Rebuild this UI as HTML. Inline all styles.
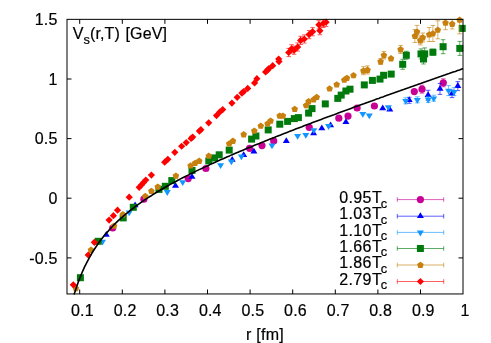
<!DOCTYPE html>
<html><head><meta charset="utf-8"><style>
html,body{margin:0;padding:0;background:#fff;}
svg{display:block;}
#wrap{will-change:transform;transform:translateZ(0);opacity:0.999;width:491px;height:343px;overflow:hidden}
text{font-family:"Liberation Sans",sans-serif;font-size:16px;fill:#000;stroke:#000;stroke-width:0.2px;}
</style></head><body><div id="wrap">
<svg width="491" height="343" viewBox="0 0 491 343">
<rect width="491" height="343" fill="#fff"/>
<text x="82.4" y="316.2" text-anchor="middle" letter-spacing="0.2">0.1</text>
<text x="125.1" y="316.2" text-anchor="middle" letter-spacing="0.2">0.2</text>
<text x="167.7" y="316.2" text-anchor="middle" letter-spacing="0.2">0.3</text>
<text x="210.3" y="316.2" text-anchor="middle" letter-spacing="0.2">0.4</text>
<text x="252.9" y="316.2" text-anchor="middle" letter-spacing="0.2">0.5</text>
<text x="295.5" y="316.2" text-anchor="middle" letter-spacing="0.2">0.6</text>
<text x="338.1" y="316.2" text-anchor="middle" letter-spacing="0.2">0.7</text>
<text x="380.7" y="316.2" text-anchor="middle" letter-spacing="0.2">0.8</text>
<text x="423.3" y="316.2" text-anchor="middle" letter-spacing="0.2">0.9</text>
<text x="465.1" y="316.2" text-anchor="middle" letter-spacing="0.2">1</text>
<text x="57.5" y="263.7" text-anchor="end" letter-spacing="0.2">-0.5</text>
<text x="57.5" y="204.1" text-anchor="end" letter-spacing="0.2">0</text>
<text x="57.5" y="144.4" text-anchor="end" letter-spacing="0.2">0.5</text>
<text x="57.5" y="84.8" text-anchor="end" letter-spacing="0.2">1</text>
<text x="57.5" y="25.1" text-anchor="end" letter-spacing="0.2">1.5</text>
<text x="265" y="340.2" text-anchor="middle" letter-spacing="0.26">r [fm]</text>
<text x="72.8" y="39.2" letter-spacing="0.1">V<tspan font-size="12.8" dy="4.8">s</tspan><tspan dy="-4.8">(r,T) </tspan><tspan dx="1.1">[GeV]</tspan></text>
<clipPath id="cp"><rect x="67.0" y="19.35" width="396.0" height="274.6"/></clipPath>
<g clip-path="url(#cp)"><path d="M422.0 85.2V93.2M419.7 85.2h4.6M419.7 93.2h4.6" stroke="#c80096" stroke-width="0.7" fill="none" opacity="0.9"/></g>
<g clip-path="url(#cp)"><path d="M443.3 78.8V86.8M441.0 78.8h4.6M441.0 86.8h4.6" stroke="#c80096" stroke-width="0.7" fill="none" opacity="0.9"/></g>
<circle cx="112.7" cy="228.0" r="3.6" fill="#c80096"/>
<circle cx="143.9" cy="199.2" r="3.6" fill="#c80096"/>
<circle cx="188.2" cy="178.6" r="3.6" fill="#c80096"/>
<circle cx="205.9" cy="168.5" r="3.6" fill="#c80096"/>
<circle cx="249.6" cy="148.3" r="3.6" fill="#c80096"/>
<circle cx="262.0" cy="145.6" r="3.6" fill="#c80096"/>
<circle cx="273.7" cy="140.9" r="3.6" fill="#c80096"/>
<circle cx="309.2" cy="127.3" r="3.6" fill="#c80096"/>
<circle cx="338.8" cy="118.2" r="3.6" fill="#c80096"/>
<circle cx="348.0" cy="116.1" r="3.6" fill="#c80096"/>
<circle cx="357.1" cy="108.0" r="3.6" fill="#c80096"/>
<circle cx="374.4" cy="106.0" r="3.6" fill="#c80096"/>
<circle cx="414.3" cy="91.6" r="3.6" fill="#c80096"/>
<circle cx="422.0" cy="89.2" r="3.6" fill="#c80096"/>
<circle cx="443.3" cy="82.8" r="3.6" fill="#c80096"/>
<g clip-path="url(#cp)"><path d="M409.2 97.3V103.3M406.9 97.3h4.6M406.9 103.3h4.6" stroke="#0000ff" stroke-width="0.7" fill="none" opacity="0.9"/></g>
<g clip-path="url(#cp)"><path d="M428.1 90.3V100.3M425.8 90.3h4.6M425.8 100.3h4.6" stroke="#0000ff" stroke-width="0.7" fill="none" opacity="0.9"/></g>
<g clip-path="url(#cp)"><path d="M440.0 83.4V94.4M437.7 83.4h4.6M437.7 94.4h4.6" stroke="#0000ff" stroke-width="0.7" fill="none" opacity="0.9"/></g>
<g clip-path="url(#cp)"><path d="M452.0 90.0V97.6M449.7 90.0h4.6M449.7 97.6h4.6" stroke="#0000ff" stroke-width="0.7" fill="none" opacity="0.9"/></g>
<g clip-path="url(#cp)"><path d="M457.8 81.6V90.6M455.5 81.6h4.6M455.5 90.6h4.6" stroke="#0000ff" stroke-width="0.7" fill="none" opacity="0.9"/></g>
<path d="M106.3 231.0L109.8 236.8L102.8 236.8Z" fill="#0000ff"/>
<path d="M135.1 201.5L138.6 207.3L131.6 207.3Z" fill="#0000ff"/>
<path d="M175.5 182.0L179.0 187.8L172.0 187.8Z" fill="#0000ff"/>
<path d="M192.0 173.0L195.5 178.8L188.5 178.8Z" fill="#0000ff"/>
<path d="M232.2 156.0L235.7 161.8L228.7 161.8Z" fill="#0000ff"/>
<path d="M243.7 151.3L247.2 157.1L240.2 157.1Z" fill="#0000ff"/>
<path d="M253.9 147.8L257.4 153.6L250.4 153.6Z" fill="#0000ff"/>
<path d="M286.3 137.2L289.8 143.0L282.8 143.0Z" fill="#0000ff"/>
<path d="M313.6 129.5L317.1 135.3L310.1 135.3Z" fill="#0000ff"/>
<path d="M321.8 124.4L325.3 130.2L318.3 130.2Z" fill="#0000ff"/>
<path d="M330.6 121.4L334.1 127.2L327.1 127.2Z" fill="#0000ff"/>
<path d="M345.9 118.3L349.4 124.1L342.4 124.1Z" fill="#0000ff"/>
<path d="M382.7 104.4L386.2 110.2L379.2 110.2Z" fill="#0000ff"/>
<path d="M389.8 105.7L393.3 111.5L386.3 111.5Z" fill="#0000ff"/>
<path d="M409.2 96.3L412.7 102.1L405.7 102.1Z" fill="#0000ff"/>
<path d="M428.1 91.3L431.6 97.1L424.6 97.1Z" fill="#0000ff"/>
<path d="M440.0 84.9L443.5 90.7L436.5 90.7Z" fill="#0000ff"/>
<path d="M452.0 89.8L455.5 95.6L448.5 95.6Z" fill="#0000ff"/>
<path d="M457.8 82.1L461.3 87.9L454.3 87.9Z" fill="#0000ff"/>
<g clip-path="url(#cp)"><path d="M405.7 97.8V103.8M403.4 97.8h4.6M403.4 103.8h4.6" stroke="#1496ff" stroke-width="0.7" fill="none" opacity="0.9"/></g>
<g clip-path="url(#cp)"><path d="M417.3 96.8V102.8M415.0 96.8h4.6M415.0 102.8h4.6" stroke="#1496ff" stroke-width="0.7" fill="none" opacity="0.9"/></g>
<g clip-path="url(#cp)"><path d="M428.2 96.4V102.4M425.9 96.4h4.6M425.9 102.4h4.6" stroke="#1496ff" stroke-width="0.7" fill="none" opacity="0.9"/></g>
<g clip-path="url(#cp)"><path d="M433.7 95.2V101.2M431.4 95.2h4.6M431.4 101.2h4.6" stroke="#1496ff" stroke-width="0.7" fill="none" opacity="0.9"/></g>
<g clip-path="url(#cp)"><path d="M448.6 85.6V95.6M446.3 85.6h4.6M446.3 95.6h4.6" stroke="#1496ff" stroke-width="0.7" fill="none" opacity="0.9"/></g>
<g clip-path="url(#cp)"><path d="M454.1 87.7V95.7M451.8 87.7h4.6M451.8 95.7h4.6" stroke="#1496ff" stroke-width="0.7" fill="none" opacity="0.9"/></g>
<path d="M102.5 245.5L106.0 239.7L99.0 239.7Z" fill="#1496ff"/>
<path d="M129.2 216.3L132.7 210.5L125.7 210.5Z" fill="#1496ff"/>
<path d="M167.3 195.9L170.8 190.1L163.8 190.1Z" fill="#1496ff"/>
<path d="M182.7 186.0L186.2 180.2L179.2 180.2Z" fill="#1496ff"/>
<path d="M220.6 169.0L224.1 163.2L217.1 163.2Z" fill="#1496ff"/>
<path d="M231.4 165.3L234.9 159.5L227.9 159.5Z" fill="#1496ff"/>
<path d="M241.4 160.2L244.9 154.4L237.9 154.4Z" fill="#1496ff"/>
<path d="M272.0 149.2L275.5 143.4L268.5 143.4Z" fill="#1496ff"/>
<path d="M297.6 139.8L301.1 134.0L294.1 134.0Z" fill="#1496ff"/>
<path d="M305.8 138.7L309.3 132.9L302.3 132.9Z" fill="#1496ff"/>
<path d="M313.8 134.1L317.3 128.3L310.3 128.3Z" fill="#1496ff"/>
<path d="M328.6 129.9L332.1 124.1L325.1 124.1Z" fill="#1496ff"/>
<path d="M362.8 117.8L366.3 112.0L359.3 112.0Z" fill="#1496ff"/>
<path d="M369.3 119.3L372.8 113.5L365.8 113.5Z" fill="#1496ff"/>
<path d="M388.4 111.0L391.9 105.2L384.9 105.2Z" fill="#1496ff"/>
<path d="M405.7 104.8L409.2 99.0L402.2 99.0Z" fill="#1496ff"/>
<path d="M417.3 103.8L420.8 98.0L413.8 98.0Z" fill="#1496ff"/>
<path d="M428.2 103.4L431.7 97.6L424.7 97.6Z" fill="#1496ff"/>
<path d="M433.7 102.2L437.2 96.4L430.2 96.4Z" fill="#1496ff"/>
<path d="M448.6 94.6L452.1 88.8L445.1 88.8Z" fill="#1496ff"/>
<path d="M454.1 95.7L457.6 89.9L450.6 89.9Z" fill="#1496ff"/>
<g clip-path="url(#cp)"><path d="M402.7 59.3V69.3M400.4 59.3h4.6M400.4 69.3h4.6" stroke="#007a0c" stroke-width="0.7" fill="none" opacity="0.9"/></g>
<g clip-path="url(#cp)"><path d="M406.3 51.3V59.3M404.0 51.3h4.6M404.0 59.3h4.6" stroke="#007a0c" stroke-width="0.7" fill="none" opacity="0.9"/></g>
<g clip-path="url(#cp)"><path d="M421.0 48.9V58.9M418.7 48.9h4.6M418.7 58.9h4.6" stroke="#007a0c" stroke-width="0.7" fill="none" opacity="0.9"/></g>
<g clip-path="url(#cp)"><path d="M424.7 47.9V59.9M422.4 47.9h4.6M422.4 59.9h4.6" stroke="#007a0c" stroke-width="0.7" fill="none" opacity="0.9"/></g>
<g clip-path="url(#cp)"><path d="M423.5 54.0V64.0M421.2 54.0h4.6M421.2 64.0h4.6" stroke="#007a0c" stroke-width="0.7" fill="none" opacity="0.9"/></g>
<g clip-path="url(#cp)"><path d="M432.9 49.2V55.2M430.6 49.2h4.6M430.6 55.2h4.6" stroke="#007a0c" stroke-width="0.7" fill="none" opacity="0.9"/></g>
<g clip-path="url(#cp)"><path d="M443.1 39.7V53.7M440.8 39.7h4.6M440.8 53.7h4.6" stroke="#007a0c" stroke-width="0.7" fill="none" opacity="0.9"/></g>
<g clip-path="url(#cp)"><path d="M459.8 41.4V55.4M457.5 41.4h4.6M457.5 55.4h4.6" stroke="#007a0c" stroke-width="0.7" fill="none" opacity="0.9"/></g>
<rect x="76.9" y="274.2" width="7" height="7" fill="#007a0c"/>
<rect x="94.7" y="237.8" width="7" height="7" fill="#007a0c"/>
<rect x="119.7" y="214.4" width="7" height="7" fill="#007a0c"/>
<rect x="129.8" y="203.8" width="7" height="7" fill="#007a0c"/>
<rect x="155.5" y="185.9" width="7" height="7" fill="#007a0c"/>
<rect x="161.8" y="182.8" width="7" height="7" fill="#007a0c"/>
<rect x="168.3" y="177.1" width="7" height="7" fill="#007a0c"/>
<rect x="188.5" y="166.9" width="7" height="7" fill="#007a0c"/>
<rect x="205.3" y="157.4" width="7" height="7" fill="#007a0c"/>
<rect x="211.0" y="154.4" width="7" height="7" fill="#007a0c"/>
<rect x="215.7" y="151.3" width="7" height="7" fill="#007a0c"/>
<rect x="225.7" y="146.6" width="7" height="7" fill="#007a0c"/>
<rect x="248.1" y="135.6" width="7" height="7" fill="#007a0c"/>
<rect x="252.4" y="132.5" width="7" height="7" fill="#007a0c"/>
<rect x="264.7" y="126.4" width="7" height="7" fill="#007a0c"/>
<rect x="276.3" y="120.7" width="7" height="7" fill="#007a0c"/>
<rect x="284.1" y="117.9" width="7" height="7" fill="#007a0c"/>
<rect x="290.8" y="115.1" width="7" height="7" fill="#007a0c"/>
<rect x="294.9" y="114.1" width="7" height="7" fill="#007a0c"/>
<rect x="305.1" y="109.6" width="7" height="7" fill="#007a0c"/>
<rect x="308.5" y="105.1" width="7" height="7" fill="#007a0c"/>
<rect x="321.8" y="100.4" width="7" height="7" fill="#007a0c"/>
<rect x="334.3" y="94.9" width="7" height="7" fill="#007a0c"/>
<rect x="337.7" y="91.6" width="7" height="7" fill="#007a0c"/>
<rect x="342.4" y="87.5" width="7" height="7" fill="#007a0c"/>
<rect x="346.5" y="85.7" width="7" height="7" fill="#007a0c"/>
<rect x="360.8" y="81.4" width="7" height="7" fill="#007a0c"/>
<rect x="368.9" y="76.9" width="7" height="7" fill="#007a0c"/>
<rect x="376.5" y="75.6" width="7" height="7" fill="#007a0c"/>
<rect x="380.1" y="71.8" width="7" height="7" fill="#007a0c"/>
<rect x="387.7" y="70.6" width="7" height="7" fill="#007a0c"/>
<rect x="399.2" y="60.8" width="7" height="7" fill="#007a0c"/>
<rect x="402.8" y="51.8" width="7" height="7" fill="#007a0c"/>
<rect x="417.5" y="50.4" width="7" height="7" fill="#007a0c"/>
<rect x="421.2" y="50.4" width="7" height="7" fill="#007a0c"/>
<rect x="420.0" y="55.5" width="7" height="7" fill="#007a0c"/>
<rect x="429.4" y="48.7" width="7" height="7" fill="#007a0c"/>
<rect x="439.6" y="43.2" width="7" height="7" fill="#007a0c"/>
<rect x="456.3" y="44.9" width="7" height="7" fill="#007a0c"/>
<rect x="458.7" y="24.9" width="7" height="7" fill="#007a0c"/>
<g clip-path="url(#cp)"><path d="M363.4 66.7V74.7M361.1 66.7h4.6M361.1 74.7h4.6" stroke="#c8800e" stroke-width="0.7" fill="none" opacity="0.9"/></g>
<g clip-path="url(#cp)"><path d="M367.5 65.9V73.9M365.2 65.9h4.6M365.2 73.9h4.6" stroke="#c8800e" stroke-width="0.7" fill="none" opacity="0.9"/></g>
<g clip-path="url(#cp)"><path d="M380.6 58.5V64.5M378.3 58.5h4.6M378.3 64.5h4.6" stroke="#c8800e" stroke-width="0.7" fill="none" opacity="0.9"/></g>
<g clip-path="url(#cp)"><path d="M383.9 51.4V59.0M381.6 51.4h4.6M381.6 59.0h4.6" stroke="#c8800e" stroke-width="0.7" fill="none" opacity="0.9"/></g>
<g clip-path="url(#cp)"><path d="M400.6 45.4V53.4M398.3 45.4h4.6M398.3 53.4h4.6" stroke="#c8800e" stroke-width="0.7" fill="none" opacity="0.9"/></g>
<g clip-path="url(#cp)"><path d="M414.9 29.5V42.5M412.6 29.5h4.6M412.6 42.5h4.6" stroke="#c8800e" stroke-width="0.7" fill="none" opacity="0.9"/></g>
<g clip-path="url(#cp)"><path d="M417.0 25.4V38.0M414.7 25.4h4.6M414.7 38.0h4.6" stroke="#c8800e" stroke-width="0.7" fill="none" opacity="0.9"/></g>
<g clip-path="url(#cp)"><path d="M420.3 35.9V44.9M418.0 35.9h4.6M418.0 44.9h4.6" stroke="#c8800e" stroke-width="0.7" fill="none" opacity="0.9"/></g>
<g clip-path="url(#cp)"><path d="M422.8 33.0V42.0M420.5 33.0h4.6M420.5 42.0h4.6" stroke="#c8800e" stroke-width="0.7" fill="none" opacity="0.9"/></g>
<g clip-path="url(#cp)"><path d="M429.2 27.5V41.5M426.9 27.5h4.6M426.9 41.5h4.6" stroke="#c8800e" stroke-width="0.7" fill="none" opacity="0.9"/></g>
<g clip-path="url(#cp)"><path d="M432.9 25.5V41.5M430.6 25.5h4.6M430.6 41.5h4.6" stroke="#c8800e" stroke-width="0.7" fill="none" opacity="0.9"/></g>
<g clip-path="url(#cp)"><path d="M437.8 20.8V38.8M435.5 20.8h4.6M435.5 38.8h4.6" stroke="#c8800e" stroke-width="0.7" fill="none" opacity="0.9"/></g>
<g clip-path="url(#cp)"><path d="M445.5 15.7V29.7M443.2 15.7h4.6M443.2 29.7h4.6" stroke="#c8800e" stroke-width="0.7" fill="none" opacity="0.9"/></g>
<g clip-path="url(#cp)"><path d="M452.2 18.9V28.9M449.9 18.9h4.6M449.9 28.9h4.6" stroke="#c8800e" stroke-width="0.7" fill="none" opacity="0.9"/></g>
<g clip-path="url(#cp)"><path d="M459.6 5.8V33.8M457.3 5.8h4.6M457.3 33.8h4.6" stroke="#c8800e" stroke-width="0.7" fill="none" opacity="0.9"/></g>
<polygon points="75.9,285.0 79.2,287.4 78.0,291.3 73.8,291.3 72.6,287.4" fill="#c8800e"/>
<polygon points="91.0,246.6 94.3,249.0 93.1,252.9 88.9,252.9 87.7,249.0" fill="#c8800e"/>
<polygon points="114.0,222.5 117.3,224.9 116.1,228.8 111.9,228.8 110.7,224.9" fill="#c8800e"/>
<polygon points="122.9,211.1 126.2,213.5 125.0,217.4 120.8,217.4 119.6,213.5" fill="#c8800e"/>
<polygon points="145.3,192.8 148.6,195.2 147.4,199.1 143.2,199.1 142.0,195.2" fill="#c8800e"/>
<polygon points="151.4,187.7 154.7,190.1 153.5,194.0 149.3,194.0 148.1,190.1" fill="#c8800e"/>
<polygon points="157.8,183.4 161.1,185.8 159.9,189.7 155.7,189.7 154.5,185.8" fill="#c8800e"/>
<polygon points="175.9,172.4 179.2,174.8 178.0,178.7 173.8,178.7 172.6,174.8" fill="#c8800e"/>
<polygon points="190.6,162.3 193.9,164.7 192.7,168.6 188.5,168.6 187.3,164.7" fill="#c8800e"/>
<polygon points="195.1,159.7 198.4,162.1 197.2,166.0 193.0,166.0 191.8,162.1" fill="#c8800e"/>
<polygon points="199.2,157.6 202.5,160.0 201.3,163.9 197.1,163.9 195.9,160.0" fill="#c8800e"/>
<polygon points="208.8,152.5 212.1,154.9 210.9,158.8 206.7,158.8 205.5,154.9" fill="#c8800e"/>
<polygon points="229.2,140.3 232.5,142.7 231.3,146.6 227.1,146.6 225.9,142.7" fill="#c8800e"/>
<polygon points="232.9,137.6 236.2,140.0 235.0,143.9 230.8,143.9 229.6,140.0" fill="#c8800e"/>
<polygon points="243.7,131.1 247.0,133.5 245.8,137.4 241.6,137.4 240.4,133.5" fill="#c8800e"/>
<polygon points="254.3,127.4 257.6,129.8 256.4,133.7 252.2,133.7 251.0,129.8" fill="#c8800e"/>
<polygon points="260.8,122.5 264.1,124.9 262.9,128.8 258.7,128.8 257.5,124.9" fill="#c8800e"/>
<polygon points="267.6,120.3 270.9,122.7 269.7,126.6 265.5,126.6 264.3,122.7" fill="#c8800e"/>
<polygon points="270.6,117.4 273.9,119.8 272.7,123.7 268.5,123.7 267.3,119.8" fill="#c8800e"/>
<polygon points="279.7,112.4 283.0,114.8 281.8,118.7 277.6,118.7 276.4,114.8" fill="#c8800e"/>
<polygon points="282.9,112.4 286.2,114.8 285.0,118.7 280.8,118.7 279.6,114.8" fill="#c8800e"/>
<polygon points="294.7,105.7 298.0,108.1 296.8,112.0 292.6,112.0 291.4,108.1" fill="#c8800e"/>
<polygon points="306.1,102.0 309.4,104.4 308.2,108.3 304.0,108.3 302.8,104.4" fill="#c8800e"/>
<polygon points="308.6,98.1 311.9,100.5 310.7,104.4 306.5,104.4 305.3,100.5" fill="#c8800e"/>
<polygon points="313.7,96.1 317.0,98.5 315.8,102.4 311.6,102.4 310.4,98.5" fill="#c8800e"/>
<polygon points="316.7,93.8 320.0,96.2 318.8,100.1 314.6,100.1 313.4,96.2" fill="#c8800e"/>
<polygon points="329.6,85.3 332.9,87.7 331.7,91.6 327.5,91.6 326.3,87.7" fill="#c8800e"/>
<polygon points="336.7,81.2 340.0,83.6 338.8,87.5 334.6,87.5 333.4,83.6" fill="#c8800e"/>
<polygon points="344.3,76.5 347.6,78.9 346.4,82.8 342.2,82.8 341.0,78.9" fill="#c8800e"/>
<polygon points="346.9,74.7 350.2,77.1 349.0,81.0 344.8,81.0 343.6,77.1" fill="#c8800e"/>
<polygon points="353.5,72.0 356.8,74.4 355.6,78.3 351.4,78.3 350.2,74.4" fill="#c8800e"/>
<polygon points="363.4,67.4 366.7,69.8 365.5,73.7 361.3,73.7 360.1,69.8" fill="#c8800e"/>
<polygon points="367.5,66.6 370.8,69.0 369.6,72.9 365.4,72.9 364.2,69.0" fill="#c8800e"/>
<polygon points="380.6,58.2 383.9,60.6 382.7,64.5 378.5,64.5 377.3,60.6" fill="#c8800e"/>
<polygon points="383.9,51.9 387.2,54.3 386.0,58.2 381.8,58.2 380.6,54.3" fill="#c8800e"/>
<polygon points="391.0,55.1 394.3,57.5 393.1,61.4 388.9,61.4 387.7,57.5" fill="#c8800e"/>
<polygon points="400.6,46.1 403.9,48.5 402.7,52.4 398.5,52.4 397.3,48.5" fill="#c8800e"/>
<polygon points="414.9,32.7 418.2,35.1 417.0,39.0 412.8,39.0 411.6,35.1" fill="#c8800e"/>
<polygon points="417.0,28.4 420.3,30.8 419.1,34.7 414.9,34.7 413.7,30.8" fill="#c8800e"/>
<polygon points="420.3,37.1 423.6,39.5 422.4,43.4 418.2,43.4 417.0,39.5" fill="#c8800e"/>
<polygon points="422.8,34.2 426.1,36.6 424.9,40.5 420.7,40.5 419.5,36.6" fill="#c8800e"/>
<polygon points="429.2,31.2 432.5,33.6 431.3,37.5 427.1,37.5 425.9,33.6" fill="#c8800e"/>
<polygon points="432.9,30.2 436.2,32.6 435.0,36.5 430.8,36.5 429.6,32.6" fill="#c8800e"/>
<polygon points="437.8,26.5 441.1,28.9 439.9,32.8 435.7,32.8 434.5,28.9" fill="#c8800e"/>
<polygon points="445.5,19.4 448.8,21.8 447.6,25.7 443.4,25.7 442.2,21.8" fill="#c8800e"/>
<polygon points="452.2,20.6 455.5,23.0 454.3,26.9 450.1,26.9 448.9,23.0" fill="#c8800e"/>
<polygon points="459.6,16.5 462.9,18.9 461.7,22.8 457.5,22.8 456.3,18.9" fill="#c8800e"/>
<g clip-path="url(#cp)"><path d="M288.7 48.4V56.6M286.4 48.4h4.6M286.4 56.6h4.6" stroke="#ff0000" stroke-width="0.7" fill="none" opacity="0.9"/></g>
<g clip-path="url(#cp)"><path d="M291.6 44.7V52.9M289.3 44.7h4.6M289.3 52.9h4.6" stroke="#ff0000" stroke-width="0.7" fill="none" opacity="0.9"/></g>
<g clip-path="url(#cp)"><path d="M294.1 46.1V54.3M291.8 46.1h4.6M291.8 54.3h4.6" stroke="#ff0000" stroke-width="0.7" fill="none" opacity="0.9"/></g>
<g clip-path="url(#cp)"><path d="M297.7 42.9V51.1M295.4 42.9h4.6M295.4 51.1h4.6" stroke="#ff0000" stroke-width="0.7" fill="none" opacity="0.9"/></g>
<g clip-path="url(#cp)"><path d="M300.6 36.3V44.5M298.3 36.3h4.6M298.3 44.5h4.6" stroke="#ff0000" stroke-width="0.7" fill="none" opacity="0.9"/></g>
<g clip-path="url(#cp)"><path d="M304.3 34.9V43.1M302.0 34.9h4.6M302.0 43.1h4.6" stroke="#ff0000" stroke-width="0.7" fill="none" opacity="0.9"/></g>
<g clip-path="url(#cp)"><path d="M309.1 30.5V38.7M306.8 30.5h4.6M306.8 38.7h4.6" stroke="#ff0000" stroke-width="0.7" fill="none" opacity="0.9"/></g>
<g clip-path="url(#cp)"><path d="M312.6 27.6V35.8M310.3 27.6h4.6M310.3 35.8h4.6" stroke="#ff0000" stroke-width="0.7" fill="none" opacity="0.9"/></g>
<g clip-path="url(#cp)"><path d="M318.9 20.7V28.9M316.6 20.7h4.6M316.6 28.9h4.6" stroke="#ff0000" stroke-width="0.7" fill="none" opacity="0.9"/></g>
<g clip-path="url(#cp)"><path d="M319.9 26.6V34.8M317.6 26.6h4.6M317.6 34.8h4.6" stroke="#ff0000" stroke-width="0.7" fill="none" opacity="0.9"/></g>
<g clip-path="url(#cp)"><path d="M323.2 19.3V27.5M320.9 19.3h4.6M320.9 27.5h4.6" stroke="#ff0000" stroke-width="0.7" fill="none" opacity="0.9"/></g>
<g clip-path="url(#cp)"><path d="M326.1 17.9V26.5M323.8 17.9h4.6M323.8 26.5h4.6" stroke="#ff0000" stroke-width="0.7" fill="none" opacity="0.9"/></g>
<path d="M73.30 281.20L76.90 284.80L73.30 288.40L69.70 284.80Z" fill="#ff0000"/>
<path d="M88.20 251.40L91.80 255.00L88.20 258.60L84.60 255.00Z" fill="#ff0000"/>
<path d="M94.30 238.70L97.90 242.30L94.30 245.90L90.70 242.30Z" fill="#ff0000"/>
<path d="M109.10 216.50L112.70 220.10L109.10 223.70L105.50 220.10Z" fill="#ff0000"/>
<path d="M113.40 212.10L117.00 215.70L113.40 219.30L109.80 215.70Z" fill="#ff0000"/>
<path d="M117.50 206.60L121.10 210.20L117.50 213.80L113.90 210.20Z" fill="#ff0000"/>
<path d="M129.20 193.60L132.80 197.20L129.20 200.80L125.60 197.20Z" fill="#ff0000"/>
<path d="M139.20 183.70L142.80 187.30L139.20 190.90L135.60 187.30Z" fill="#ff0000"/>
<path d="M141.40 181.30L145.00 184.90L141.40 188.50L137.80 184.90Z" fill="#ff0000"/>
<path d="M143.60 178.80L147.20 182.40L143.60 186.00L140.00 182.40Z" fill="#ff0000"/>
<path d="M145.80 176.40L149.40 180.00L145.80 183.60L142.20 180.00Z" fill="#ff0000"/>
<path d="M151.40 171.50L155.00 175.10L151.40 178.70L147.80 175.10Z" fill="#ff0000"/>
<path d="M164.70 158.60L168.30 162.20L164.70 165.80L161.10 162.20Z" fill="#ff0000"/>
<path d="M167.80 155.70L171.40 159.30L167.80 162.90L164.20 159.30Z" fill="#ff0000"/>
<path d="M174.80 148.70L178.40 152.30L174.80 155.90L171.20 152.30Z" fill="#ff0000"/>
<path d="M181.65 142.65L185.25 146.25L181.65 149.85L178.05 146.25Z" fill="#ff0000"/>
<path d="M186.25 139.00L189.85 142.60L186.25 146.20L182.65 142.60Z" fill="#ff0000"/>
<path d="M191.10 134.80L194.70 138.40L191.10 142.00L187.50 138.40Z" fill="#ff0000"/>
<path d="M192.70 133.50L196.30 137.10L192.70 140.70L189.10 137.10Z" fill="#ff0000"/>
<path d="M199.40 127.50L203.00 131.10L199.40 134.70L195.80 131.10Z" fill="#ff0000"/>
<path d="M200.90 126.10L204.50 129.70L200.90 133.30L197.30 129.70Z" fill="#ff0000"/>
<path d="M208.70 119.20L212.30 122.80L208.70 126.40L205.10 122.80Z" fill="#ff0000"/>
<path d="M216.50 112.00L220.10 115.60L216.50 119.20L212.90 115.60Z" fill="#ff0000"/>
<path d="M219.60 108.60L223.20 112.20L219.60 115.80L216.00 112.20Z" fill="#ff0000"/>
<path d="M222.70 106.00L226.30 109.60L222.70 113.20L219.10 109.60Z" fill="#ff0000"/>
<path d="M231.90 99.50L235.50 103.10L231.90 106.70L228.30 103.10Z" fill="#ff0000"/>
<path d="M237.20 93.70L240.80 97.30L237.20 100.90L233.60 97.30Z" fill="#ff0000"/>
<path d="M241.90 89.50L245.50 93.10L241.90 96.70L238.30 93.10Z" fill="#ff0000"/>
<path d="M243.60 88.10L247.20 91.70L243.60 95.30L240.00 91.70Z" fill="#ff0000"/>
<path d="M247.70 84.80L251.30 88.40L247.70 92.00L244.10 88.40Z" fill="#ff0000"/>
<path d="M254.60 79.30L258.20 82.90L254.60 86.50L251.00 82.90Z" fill="#ff0000"/>
<path d="M256.90 75.10L260.50 78.70L256.90 82.30L253.30 78.70Z" fill="#ff0000"/>
<path d="M265.60 68.30L269.20 71.90L265.60 75.50L262.00 71.90Z" fill="#ff0000"/>
<path d="M267.50 66.60L271.10 70.20L267.50 73.80L263.90 70.20Z" fill="#ff0000"/>
<path d="M268.90 65.00L272.50 68.60L268.90 72.20L265.30 68.60Z" fill="#ff0000"/>
<path d="M272.70 62.10L276.30 65.70L272.70 69.30L269.10 65.70Z" fill="#ff0000"/>
<path d="M279.00 58.00L282.60 61.60L279.00 65.20L275.40 61.60Z" fill="#ff0000"/>
<path d="M278.70 55.40L282.30 59.00L278.70 62.60L275.10 59.00Z" fill="#ff0000"/>
<path d="M288.70 48.90L292.30 52.50L288.70 56.10L285.10 52.50Z" fill="#ff0000"/>
<path d="M291.60 45.20L295.20 48.80L291.60 52.40L288.00 48.80Z" fill="#ff0000"/>
<path d="M294.10 46.60L297.70 50.20L294.10 53.80L290.50 50.20Z" fill="#ff0000"/>
<path d="M297.70 43.40L301.30 47.00L297.70 50.60L294.10 47.00Z" fill="#ff0000"/>
<path d="M300.60 36.80L304.20 40.40L300.60 44.00L297.00 40.40Z" fill="#ff0000"/>
<path d="M304.30 35.40L307.90 39.00L304.30 42.60L300.70 39.00Z" fill="#ff0000"/>
<path d="M309.10 31.00L312.70 34.60L309.10 38.20L305.50 34.60Z" fill="#ff0000"/>
<path d="M312.60 28.10L316.20 31.70L312.60 35.30L309.00 31.70Z" fill="#ff0000"/>
<path d="M318.90 21.20L322.50 24.80L318.90 28.40L315.30 24.80Z" fill="#ff0000"/>
<path d="M319.90 27.10L323.50 30.70L319.90 34.30L316.30 30.70Z" fill="#ff0000"/>
<path d="M323.20 19.80L326.80 23.40L323.20 27.00L319.60 23.40Z" fill="#ff0000"/>
<path d="M326.10 18.60L329.70 22.20L326.10 25.80L322.50 22.20Z" fill="#ff0000"/>
<polyline points="74.1,294.6 76.2,287.9 78.3,281.9 80.5,276.4 82.6,271.3 84.7,266.7 86.9,262.4 89.0,258.3 91.1,254.6 93.2,251.0 95.4,247.7 97.5,244.6 99.6,241.6 101.8,238.8 103.9,236.1 106.0,233.5 108.2,231.1 110.3,228.7 112.4,226.5 114.5,224.3 116.7,222.2 118.8,220.2 120.9,218.3 123.1,216.4 125.2,214.6 127.3,212.8 129.5,211.1 131.6,209.4 133.7,207.8 135.8,206.2 138.0,204.6 140.1,203.1 142.2,201.6 144.4,200.2 146.5,198.7 148.6,197.3 150.8,196.0 152.9,194.6 155.0,193.3 157.1,192.0 159.3,190.7 161.4,189.5 163.5,188.2 165.7,187.0 167.8,185.8 169.9,184.6 172.1,183.4 174.2,182.3 176.3,181.2 178.4,180.0 180.6,178.9 182.7,177.8 184.8,176.7 187.0,175.6 189.1,174.6 191.2,173.5 193.4,172.5 195.5,171.4 197.6,170.4 199.7,169.4 201.9,168.4 204.0,167.4 206.1,166.4 208.3,165.4 210.4,164.4 212.5,163.4 214.7,162.5 216.8,161.5 218.9,160.5 221.0,159.6 223.2,158.7 225.3,157.7 227.4,156.8 229.6,155.9 231.7,154.9 233.8,154.0 236.0,153.1 238.1,152.2 240.2,151.3 242.3,150.4 244.5,149.5 246.6,148.6 248.7,147.7 250.9,146.9 253.0,146.0 255.1,145.1 257.3,144.2 259.4,143.4 261.5,142.5 263.6,141.7 265.8,140.8 267.9,139.9 270.0,139.1 272.2,138.3 274.3,137.4 276.4,136.6 278.6,135.7 280.7,134.9 282.8,134.1 284.9,133.2 287.1,132.4 289.2,131.6 291.3,130.7 293.5,129.9 295.6,129.1 297.7,128.3 299.9,127.5 302.0,126.7 304.1,125.8 306.2,125.0 308.4,124.2 310.5,123.4 312.6,122.6 314.8,121.8 316.9,121.0 319.0,120.2 321.2,119.4 323.3,118.6 325.4,117.8 327.5,117.0 329.7,116.2 331.8,115.4 333.9,114.7 336.1,113.9 338.2,113.1 340.3,112.3 342.5,111.5 344.6,110.7 346.7,110.0 348.8,109.2 351.0,108.4 353.1,107.6 355.2,106.8 357.4,106.1 359.5,105.3 361.6,104.5 363.8,103.8 365.9,103.0 368.0,102.2 370.1,101.4 372.3,100.7 374.4,99.9 376.5,99.1 378.7,98.4 380.8,97.6 382.9,96.9 385.1,96.1 387.2,95.3 389.3,94.6 391.4,93.8 393.6,93.1 395.7,92.3 397.8,91.5 400.0,90.8 402.1,90.0 404.2,89.3 406.4,88.5 408.5,87.8 410.6,87.0 412.7,86.3 414.9,85.5 417.0,84.8 419.1,84.0 421.3,83.3 423.4,82.5 425.5,81.8 427.7,81.0 429.8,80.3 431.9,79.5 434.0,78.8 436.2,78.0 438.3,77.3 440.4,76.6 442.6,75.8 444.7,75.1 446.8,74.3 449.0,73.6 451.1,72.8 453.2,72.1 455.3,71.4 457.5,70.6 459.6,69.9 461.7,69.1 463.1,68.7" fill="none" stroke="#000" stroke-width="1.6" stroke-linejoin="round"/>
<text x="382.1" y="202.70" text-anchor="end" letter-spacing="0.4">0.95T</text>
<text x="380.8" y="207.50" style="font-size:12.8px">c</text>
<path d="M397.3 199.6H443.7M397.3 197.2v4.6M443.7 197.2v4.6" stroke="#c80096" stroke-width="0.7" fill="none" opacity="0.9"/>
<circle cx="420.4" cy="199.6" r="3.6" fill="#c80096"/>
<text x="382.1" y="219.35" text-anchor="end" letter-spacing="0.4">1.03T</text>
<text x="380.8" y="224.15" style="font-size:12.8px">c</text>
<path d="M397.3 216.2H443.7M397.3 213.9v4.6M443.7 213.9v4.6" stroke="#0000ff" stroke-width="0.7" fill="none" opacity="0.9"/>
<path d="M420.4 212.2L423.9 218.0L416.9 218.0Z" fill="#0000ff"/>
<text x="382.1" y="235.60" text-anchor="end" letter-spacing="0.4">1.10T</text>
<text x="380.8" y="240.40" style="font-size:12.8px">c</text>
<path d="M397.3 232.4H443.7M397.3 230.1v4.6M443.7 230.1v4.6" stroke="#1496ff" stroke-width="0.7" fill="none" opacity="0.9"/>
<path d="M420.4 236.4L423.9 230.6L416.9 230.6Z" fill="#1496ff"/>
<text x="382.1" y="251.65" text-anchor="end" letter-spacing="0.4">1.66T</text>
<text x="380.8" y="256.45" style="font-size:12.8px">c</text>
<path d="M397.3 248.5H443.7M397.3 246.2v4.6M443.7 246.2v4.6" stroke="#007a0c" stroke-width="0.7" fill="none" opacity="0.9"/>
<rect x="416.9" y="245.0" width="7" height="7" fill="#007a0c"/>
<text x="382.1" y="268.15" text-anchor="end" letter-spacing="0.4">1.86T</text>
<text x="380.8" y="272.95" style="font-size:12.8px">c</text>
<path d="M397.3 265.0H443.7M397.3 262.7v4.6M443.7 262.7v4.6" stroke="#c8800e" stroke-width="0.7" fill="none" opacity="0.9"/>
<polygon points="420.4,261.7 423.7,264.1 422.5,268.0 418.3,268.0 417.1,264.1" fill="#c8800e"/>
<text x="382.1" y="284.65" text-anchor="end" letter-spacing="0.4">2.79T</text>
<text x="380.8" y="289.45" style="font-size:12.8px">c</text>
<path d="M397.3 281.5H443.7M397.3 279.2v4.6M443.7 279.2v4.6" stroke="#ff0000" stroke-width="0.7" fill="none" opacity="0.9"/>
<path d="M420.40 277.90L424.00 281.50L420.40 285.10L416.80 281.50Z" fill="#ff0000"/>
<rect x="67.0" y="19.35" width="396.0" height="274.6" fill="none" stroke="#000" stroke-width="1"/>
<path d="M79.7 294.0v-4.5M79.7 19.35v4.5M122.3 294.0v-4.5M122.3 19.35v4.5M164.9 294.0v-4.5M164.9 19.35v4.5M207.5 294.0v-4.5M207.5 19.35v4.5M250.1 294.0v-4.5M250.1 19.35v4.5M292.7 294.0v-4.5M292.7 19.35v4.5M335.3 294.0v-4.5M335.3 19.35v4.5M377.9 294.0v-4.5M377.9 19.35v4.5M420.5 294.0v-4.5M420.5 19.35v4.5M67.0 257.9h4.5M463.0 257.9h-4.5M67.0 198.2h4.5M463.0 198.2h-4.5M67.0 138.6h4.5M463.0 138.6h-4.5M67.0 79.0h4.5M463.0 79.0h-4.5" stroke="#000" stroke-width="1" fill="none"/>
</svg></div></body></html>
